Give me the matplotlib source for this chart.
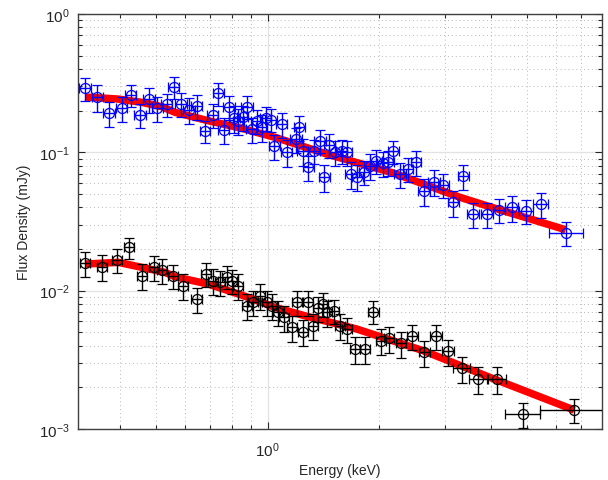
import numpy as np
import matplotlib
matplotlib.use("Agg")
import matplotlib.pyplot as plt
from matplotlib.ticker import LogLocator, NullFormatter

plt.rcParams['font.family'] = ['Liberation Sans', 'DejaVu Sans']

# ---------------- data ----------------
blue_E = [0.3218, 0.3473, 0.3735, 0.4042, 0.4273, 0.4526, 0.4786, 0.5039, 0.5341, 0.5580,
          0.5839, 0.6136, 0.6435, 0.6776, 0.7108, 0.7358, 0.7609, 0.7863, 0.8128, 0.8333,
          0.8562, 0.8794, 0.9055, 0.9341, 0.9634, 0.9876, 1.0207, 1.0418, 1.0908, 1.1251,
          1.1920, 1.2167, 1.2425, 1.2865, 1.3329, 1.3836, 1.4212, 1.4659, 1.5187, 1.5830,
          1.6330, 1.6770, 1.7440, 1.8214, 1.8869, 1.9584, 2.0417, 2.1140, 2.1804, 2.2733,
          2.3933, 2.5061, 2.6385, 2.8067, 2.9734, 3.1644, 3.3672, 3.5834, 3.8935, 4.2018,
          4.5478, 4.9685, 5.4439, 6.3564]
blue_F = [0.2903, 0.2498, 0.1924, 0.2080, 0.2596, 0.1869, 0.2428, 0.2080, 0.2235, 0.2981,
          0.2235, 0.2032, 0.2151, 0.1426, 0.1869, 0.2671, 0.1457, 0.2137, 0.1770, 0.1692,
          0.1791, 0.2137, 0.1474, 0.1692, 0.1516, 0.1770, 0.1720, 0.1105, 0.1602, 0.1000,
          0.1248, 0.1516, 0.1027, 0.0779, 0.1027, 0.1213, 0.0666, 0.1135, 0.1000, 0.1027,
          0.1000, 0.0697, 0.0666, 0.0724, 0.0800, 0.0870, 0.0837, 0.0847, 0.1017, 0.0697,
          0.0757, 0.0847, 0.0528, 0.0613, 0.0580, 0.0435, 0.0671, 0.0358, 0.0358, 0.0383,
          0.0400, 0.0378, 0.0423, 0.0261]
blue_rel_err = [0.19, 0.22, 0.21, 0.20, 0.18, 0.20, 0.21, 0.20, 0.19, 0.18,
                0.20, 0.21, 0.20, 0.18, 0.20, 0.19, 0.21, 0.20, 0.22, 0.21,
                0.20, 0.19, 0.21, 0.20, 0.22, 0.20, 0.19, 0.20, 0.21, 0.22,
                0.21, 0.20, 0.22, 0.21, 0.20, 0.19, 0.22, 0.20, 0.21, 0.20,
                0.21, 0.22, 0.21, 0.20, 0.21, 0.20, 0.21, 0.20, 0.19, 0.21,
                0.20, 0.21, 0.22, 0.21, 0.20, 0.21, 0.20, 0.21, 0.21, 0.20,
                0.21, 0.20, 0.21, 0.20]
blue_xerr_dex = [
    0.016, 0.015, 0.015, 0.015, 0.015, 0.015, 0.015, 0.015, 0.015, 0.015,
    0.015, 0.015, 0.015, 0.014, 0.015, 0.015, 0.015, 0.015, 0.015, 0.015,
    0.015, 0.015, 0.015, 0.015, 0.015, 0.015, 0.015, 0.015, 0.015, 0.015,
    0.015, 0.015, 0.015, 0.015, 0.015, 0.015, 0.015, 0.015, 0.015, 0.015,
    0.015, 0.015, 0.015, 0.015, 0.015, 0.015, 0.015, 0.015, 0.015, 0.015,
    0.014, 0.014, 0.015, 0.015, 0.015, 0.015, 0.015, 0.016, 0.016, 0.016,
    0.017, 0.018, 0.020, 0.046]

black_E = [0.3218, 0.3582, 0.3917, 0.4228, 0.4574, 0.4938, 0.5198, 0.5566, 0.5921, 0.6435,
           0.6818, 0.7108, 0.7436, 0.7753, 0.7998, 0.8333, 0.8778, 0.9145, 0.9533, 0.9938,
           1.0290, 1.0680, 1.1085, 1.1606, 1.1972, 1.2425, 1.2865, 1.3271, 1.3689, 1.4069,
           1.4476, 1.5088, 1.5666, 1.6330, 1.7193, 1.8294, 1.9262, 2.0169, 2.1270, 2.2876,
           2.4539, 2.6434, 2.8414, 3.0560, 3.3340, 3.6813, 4.1423, 4.8862, 6.7050]
black_F = [0.01584, 0.01489, 0.01665, 0.02056, 0.01282, 0.01474, 0.01409, 0.01282, 0.01085, 0.00870,
           0.01318, 0.01179, 0.01148, 0.01260, 0.01179, 0.01085, 0.00778, 0.00823, 0.00918, 0.00823,
           0.00778, 0.00697, 0.00641, 0.00543, 0.00823, 0.00504, 0.00823, 0.00557, 0.00745, 0.00800,
           0.00697, 0.00716, 0.00557, 0.00528, 0.00378, 0.00378, 0.00704, 0.00434, 0.00452, 0.00416,
           0.00467, 0.00358, 0.00467, 0.00364, 0.00274, 0.00230, 0.00230, 0.00128, 0.00137]
black_rel_err = [0.21, 0.21, 0.20, 0.17, 0.21, 0.20, 0.21, 0.20, 0.21, 0.21,
                 0.20, 0.21, 0.20, 0.19, 0.20, 0.21, 0.21, 0.20, 0.21, 0.20,
                 0.21, 0.20, 0.21, 0.21, 0.20, 0.21, 0.20, 0.21, 0.20, 0.20,
                 0.21, 0.20, 0.21, 0.21, 0.22, 0.22, 0.19, 0.21, 0.21, 0.21,
                 0.20, 0.21, 0.20, 0.21, 0.21, 0.22, 0.22, 0.21, 0.20]
black_xerr_dex_lo = [
    0.0135, 0.0135, 0.0135, 0.0135, 0.0135, 0.0135, 0.0135, 0.0135, 0.0135, 0.0150,
    0.0135, 0.0135, 0.0135, 0.0135, 0.0135, 0.0135, 0.0135, 0.0135, 0.0135, 0.0135,
    0.0135, 0.0135, 0.0135, 0.0135, 0.0135, 0.0135, 0.0135, 0.0135, 0.0135, 0.0135,
    0.0135, 0.0135, 0.0135, 0.0135, 0.0140, 0.0140, 0.0140, 0.0140, 0.0140, 0.0140,
    0.0150, 0.0150, 0.0150, 0.0160, 0.0225, 0.0243, 0.0243, 0.0495, 0.0924]
black_xerr_dex_hi = [
    0.0135, 0.0135, 0.0135, 0.0135, 0.0135, 0.0135, 0.0135, 0.0135, 0.0135, 0.0150,
    0.0135, 0.0135, 0.0135, 0.0135, 0.0135, 0.0135, 0.0135, 0.0135, 0.0135, 0.0135,
    0.0135, 0.0135, 0.0135, 0.0135, 0.0135, 0.0135, 0.0135, 0.0135, 0.0135, 0.0135,
    0.0135, 0.0135, 0.0135, 0.0135, 0.0140, 0.0140, 0.0140, 0.0140, 0.0140, 0.0140,
    0.0150, 0.0150, 0.0150, 0.0160, 0.0225, 0.0243, 0.0243, 0.0450, 0.1100]

blue_model_E = [0.3218, 0.3950, 0.4574, 0.5180, 0.5626, 0.6916, 0.8510, 1.0464, 1.4424,
                2.1804, 3.2984, 3.8935, 6.3564]
blue_model_F = [0.2511, 0.2428, 0.2298, 0.2137, 0.1946, 0.1692, 0.1491, 0.1283, 0.0972,
                0.0709, 0.0473, 0.0411, 0.02756]
black_model_E = [0.3218, 0.3957, 0.4574, 0.5285, 0.5626, 0.6916, 0.8510, 1.0464, 1.2604,
                 1.7377, 2.6270, 3.9737, 6.7050]
black_model_F = [0.01557, 0.01602, 0.01474, 0.01356, 0.01260, 0.01116, 0.00929, 0.00757,
                 0.00658, 0.00528, 0.00368, 0.00236, 0.00137]

x_limits = (0.308, 7.95)
y_limits = (1e-3, 1e0)

# ---------------- figure ----------------
W, H = 608, 481
fig = plt.figure(figsize=(W / 100, H / 100), dpi=100)
ax = fig.add_axes([78 / W, 51 / H, (601.7 - 78) / W, (430 - 15) / H])
ax.set_xscale('log')
ax.set_yscale('log')

red_lw = 7.5 * 0.72
ax.plot(blue_model_E, blue_model_F, color='#ff0000', lw=red_lw, zorder=2,
        solid_capstyle='butt', solid_joinstyle='round')
ax.plot(black_model_E, black_model_F, color='#ff0000', lw=red_lw, zorder=2,
        solid_capstyle='butt', solid_joinstyle='round')


def draw_series(E, F, rel, dlo, dhi, color):
    E = np.asarray(E); F = np.asarray(F); rel = np.asarray(rel)
    dlo = np.asarray(dlo); dhi = np.asarray(dhi)
    xerr = np.vstack([E - E * 10 ** (-dlo), E * 10 ** dhi - E])
    yerr = np.vstack([F * rel, F * rel])
    ax.errorbar(E, F, xerr=xerr, yerr=yerr, fmt='o', color=color, mfc='none',
                mec=color, ms=7.2, mew=0.9, elinewidth=1.0, capsize=3.6,
                capthick=1.0, zorder=3)


draw_series(blue_E, blue_F, blue_rel_err, blue_xerr_dex, blue_xerr_dex, '#0000ff')
draw_series(black_E, black_F, black_rel_err, black_xerr_dex_lo, black_xerr_dex_hi, '#000000')

ax.set_xlim(*x_limits)
ax.set_ylim(*y_limits)

ax.xaxis.set_major_locator(LogLocator(base=10, numticks=10))
ax.xaxis.set_minor_locator(LogLocator(base=10, subs=np.arange(2, 10), numticks=20))
ax.yaxis.set_major_locator(LogLocator(base=10, numticks=10))
ax.yaxis.set_minor_locator(LogLocator(base=10, subs=np.arange(2, 10), numticks=20))
ax.xaxis.set_minor_formatter(NullFormatter())
ax.yaxis.set_minor_formatter(NullFormatter())

ax.grid(True, which='major', color='#e2e2e2', lw=0.9, ls='-', zorder=0)
ax.grid(True, which='minor', color='#b8b8b8', lw=0.7, ls=(0, (1, 3)), zorder=0)
ax.set_axisbelow(True)

axis_col = '#262626'
for s in ax.spines.values():
    s.set_color('#404040')
    s.set_linewidth(1.0)
ax.tick_params(which='both', direction='in', top=True, right=True, colors=axis_col,
               labelcolor=axis_col, width=0.8)
ax.tick_params(which='major', length=5, labelsize=11)
ax.tick_params(which='minor', length=3)
ax.tick_params(axis='y', which='major', pad=6)
ax.tick_params(axis='x', which='major', pad=8)

ax.set_xlabel('Energy (keV)', fontsize=10, color=axis_col, labelpad=3)
ax.set_ylabel('Flux Density (mJy)', fontsize=10, color=axis_col, labelpad=6)

fig.savefig('out.png', dpi=100)
